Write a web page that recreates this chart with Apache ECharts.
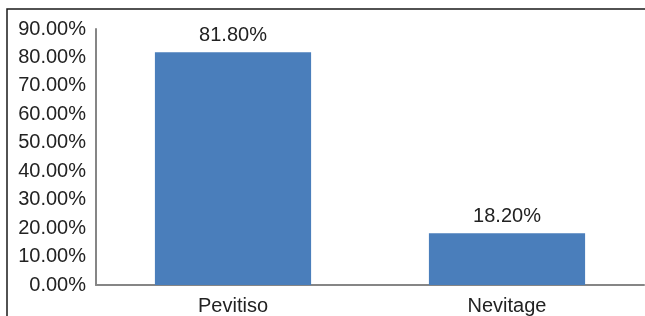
<html>
<head>
    <script src="https://cdn.jsdelivr.net/npm/echarts@6/dist/echarts.min.js"></script>
</head>
<body style="margin:0">
<div id="main" style="width: 645px;height:316px;"></div>
<script type="text/javascript">

var categories = ['Pevitiso', 'Nevitage'];
var values = [81.8, 18.2];
var yTicks = [0, 10, 20, 30, 40, 50, 60, 70, 80, 90];

var textColor = '#222222';
var fontFamily = 'Liberation Sans, Arial, sans-serif';

function pct(v) { return v.toFixed(2) + '%'; }

option = {
    animation: false,
    grid: {
        left: 96,
        top: 29,
        right: 1,
        bottom: 31,
        outerBoundsMode: 'none',
        containLabel: false
    },
    graphic: [{
        type: 'polyline',
        shape: { points: [[7, 400], [7, 9], [700, 9]] },
        style: { fill: 'none', stroke: '#1a1a1a', lineWidth: 1.5 },
        silent: true
    }],
    xAxis: {
        type: 'category',
        data: categories,
        axisLine: { lineStyle: { color: '#868686', width: 2 } },
        axisTick: { show: false },
        axisLabel: {
            color: textColor,
            fontFamily: fontFamily,
            fontSize: 20,
            margin: 4
        }
    },
    yAxis: [{
        type: 'value',
        min: yTicks[0],
        max: yTicks[yTicks.length - 1],
        interval: 10,
        splitLine: { show: false },
        axisLine: { show: true, lineStyle: { color: '#868686', width: 2 } },
        axisTick: { show: false },
        axisLabel: { show: false }
    }, {
        // tick labels, one per yTicks entry, all shown
        type: 'category',
        position: 'left',
        data: yTicks.map(pct),
        boundaryGap: false,
        axisLine: { show: false },
        axisTick: { show: false },
        splitLine: { show: false },
        axisLabel: {
            interval: 0,
            color: textColor,
            fontFamily: fontFamily,
            fontSize: 20,
            margin: 10,
            padding: [0, 0, 8, 0]
        }
    }],
    series: [{
        type: 'bar',
        data: values,
        barWidth: '57%',
        itemStyle: { color: '#4A7EBB' },
        label: {
            show: true,
            position: 'top',
            distance: 0,
            color: textColor,
            fontFamily: fontFamily,
            fontSize: 20,
            formatter: function (p) { return pct(p.value); }
        }
    }]
};

var chart = echarts.init(document.getElementById('main'));
chart.setOption(option);

</script>
</body>
</html>
